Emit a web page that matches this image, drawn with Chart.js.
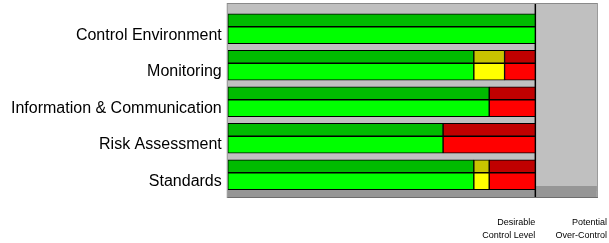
<!DOCTYPE html>
<html>
<head>
<meta charset="utf-8">
<script src="https://cdn.jsdelivr.net/npm/chart.js@4.4.0/dist/chart.umd.min.js"></script>
<style>
  html, body { margin: 0; padding: 0; background: #fff; overflow: hidden; }
  #controlChart { display: block; }
</style>
</head>
<body>
<canvas id="controlChart" width="609" height="243"></canvas>
<script>
'use strict';

// categories, top to bottom
const categories = ['Control Environment', 'Monitoring', 'Information & Communication', 'Risk Assessment', 'Standards'];

// percentage of desirable control level (upper, darker bar)
const upperGreen = [100, 80, 85, 70, 80];
const upperYellow = [0, 10, 0, 0, 5];
const upperRed = [0, 10, 15, 30, 15];

// lower, brighter bar
const lowerGreen = [100, 80, 85, 70, 80];
const lowerYellow = [0, 10, 0, 0, 5];
const lowerRed = [0, 10, 15, 30, 15];

// x axis marks
const desirableLevel = 100;
const overControlLevel = 120;
const xTickValues = [100, 123.3];
const xTickLabels = [['Desirable', 'Control Level'], ['Potential', 'Over-Control']];

/**
 * grey panels, floor and the desirable level line
 */
const backdrop = {
  id: 'backdrop',
  beforeDatasetsDraw(chart) {
    const ctx = chart.ctx;
    const area = chart.chartArea;
    const x = chart.scales.x;
    const left = x.getPixelForValue(0);
    const mid = x.getPixelForValue(desirableLevel);
    const right = x.getPixelForValue(overControlLevel);
    const top = area.top - 4.5;
    const bottom = area.bottom;

    ctx.save();
    // main panel
    ctx.fillStyle = '#c0c0c0';
    ctx.fillRect(left, top, right - left, bottom - top);
    // floor
    ctx.fillStyle = '#969696';
    ctx.fillRect(left, bottom - 2, mid - left, 8);
    ctx.fillRect(mid, bottom - 5, right - mid, 11);
    // outline
    ctx.strokeStyle = '#8a8a8a';
    ctx.lineWidth = 1;
    ctx.strokeRect(left - 0.5, top - 0.5, right - left + 1, bottom + 6 - top + 1);
    ctx.beginPath();
    ctx.moveTo(left, bottom + 6.5);
    ctx.lineTo(right + 1, bottom + 6.5);
    ctx.strokeStyle = '#6e6e6e';
    ctx.stroke();
    // desirable level line
    ctx.beginPath();
    ctx.moveTo(mid, top);
    ctx.lineTo(mid, bottom + 6);
    ctx.strokeStyle = '#000';
    ctx.lineWidth = 1.5;
    ctx.stroke();
    ctx.restore();
  }
};

function barSet(data, color, stack, thickness) {
  return {
    data: data,
    backgroundColor: color,
    borderColor: '#000',
    borderWidth: 1,
    borderSkipped: false,
    stack: stack,
    barThickness: thickness
  };
}

const ctx = document.getElementById('controlChart').getContext('2d');
const controlChart = new Chart(ctx, {
  type: 'bar',
  data: {
    labels: categories,
    datasets: [
      barSet(upperGreen, '#00bb00', 'upper', 13),
      barSet(upperYellow, '#c8c400', 'upper', 13),
      barSet(upperRed, '#c00000', 'upper', 13),
      barSet(lowerGreen, '#00ff00', 'lower', 17),
      barSet(lowerYellow, '#ffff00', 'lower', 17),
      barSet(lowerRed, '#ff0000', 'lower', 17)
    ]
  },
  options: {
    indexAxis: 'y',
    responsive: false,
    animation: false,
    devicePixelRatio: 1,
    layout: {
      padding: { left: 5, right: 2, top: 8.5, bottom: 0 }
    },
    plugins: {
      legend: { display: false },
      tooltip: { enabled: false }
    },
    scales: {
      x: {
        stacked: true,
        min: 0,
        max: 123.3,
        grid: { display: false, drawTicks: false },
        border: { display: false },
        afterBuildTicks: function (axis) {
          axis.ticks = xTickValues.map(v => ({ value: v }));
        },
        afterFit: function (axis) {
          axis.height = 52;
          axis.paddingLeft = 0;
          axis.paddingRight = 0;
        },
        ticks: {
          align: 'end',
          padding: 24.5,
          color: '#000',
          font: { family: "'Liberation Sans', Arial, sans-serif", size: 9, lineHeight: 1.45 },
          callback: function (value, index) {
            return xTickLabels[index];
          }
        }
      },
      y: {
        stacked: true,
        grid: { display: false, drawTicks: false },
        border: { display: false },
        afterFit: function (axis) {
          axis.paddingTop = 0;
          axis.paddingBottom = 0;
        },
        ticks: {
          padding: 6,
          labelOffset: 8.5,
          color: '#000',
          font: { family: "'Liberation Sans', Arial, sans-serif", size: 16 }
        }
      }
    }
  },
  plugins: [backdrop]
});
</script>
</body>
</html>
